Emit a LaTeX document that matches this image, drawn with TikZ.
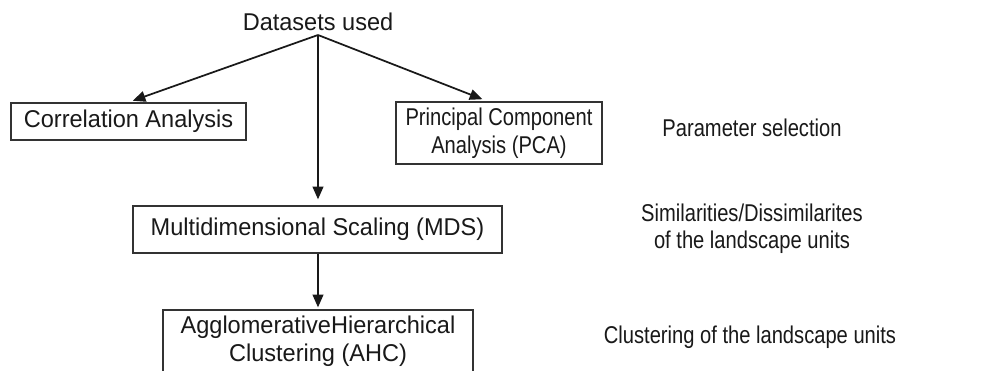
\documentclass[tikz,border=0pt]{standalone}
\usepackage{fontspec}
\setmainfont[FakeStretch=0.97]{Liberation Sans}
\newfontfamily\condfont[FakeStretch=0.83]{Liberation Sans}
\usetikzlibrary{arrows.meta}
\tikzset{
  boxnode/.style={draw=black!80, line width=0.9pt, inner sep=0pt, align=center,
    font=\fontsize{18.2}{21}\selectfont, text=black!90},
  plain/.style={inner sep=0pt, align=center, font=\fontsize{18.2}{21}\selectfont, text=black!90},
  sidenote/.style={inner sep=0pt, align=center, font=\condfont\fontsize{18.2}{20.5}\selectfont, text=black!90},
  flow/.style={line width=1.3pt, black!90, -{Triangle[length=9.5pt,width=8pt]}}
}
\begin{document}
\begin{tikzpicture}[x=0.75pt,y=-0.75pt]
\useasboundingbox[fill=white] (0,0) rectangle (990,371);
\node[plain] (ds) at (318,22) {Datasets used};
\coordinate (apex) at (318,35);
\node[boxnode, minimum width=235*0.75pt, minimum height=37*0.75pt] (corr) at (128.5,121.5) {Correlation Analysis};
\node[boxnode, font=\condfont\fontsize{18.2}{21}\selectfont, minimum width=206*0.75pt, minimum height=62*0.75pt] (pca) at (499,133) {Principal Component\\Analysis (PCA)};
\node[boxnode, minimum width=369*0.75pt, minimum height=47*0.75pt] (mds) at (317.5,229.5) {Multidimensional Scaling (MDS)};
\node[boxnode, minimum width=310*0.75pt, minimum height=62*0.75pt] (ahc) at (318,341) {AgglomerativeHierarchical\\Clustering (AHC)};
\node[sidenote] (ps) at (752,128) {Parameter selection};
\node[sidenote] (sim) at (752,228.5) {Similarities/Dissimilarites\\of the landscape units};
\node[sidenote] (clu) at (750,337) {Clustering of the landscape units};
\draw[flow, shorten >=5*0.75pt] (apex) -- ([xshift=-0.5*0.75pt]corr.north);
\draw[flow, shorten >=6*0.75pt] (apex) -- ([xshift=-11*0.75pt]pca.north);
\draw[flow, shorten >=6*0.75pt] (apex) -- (mds.north -| apex);
\draw[flow, shorten >=2*0.75pt] (mds.south -| apex) -- (ahc.north -| apex);
\end{tikzpicture}
\end{document}
